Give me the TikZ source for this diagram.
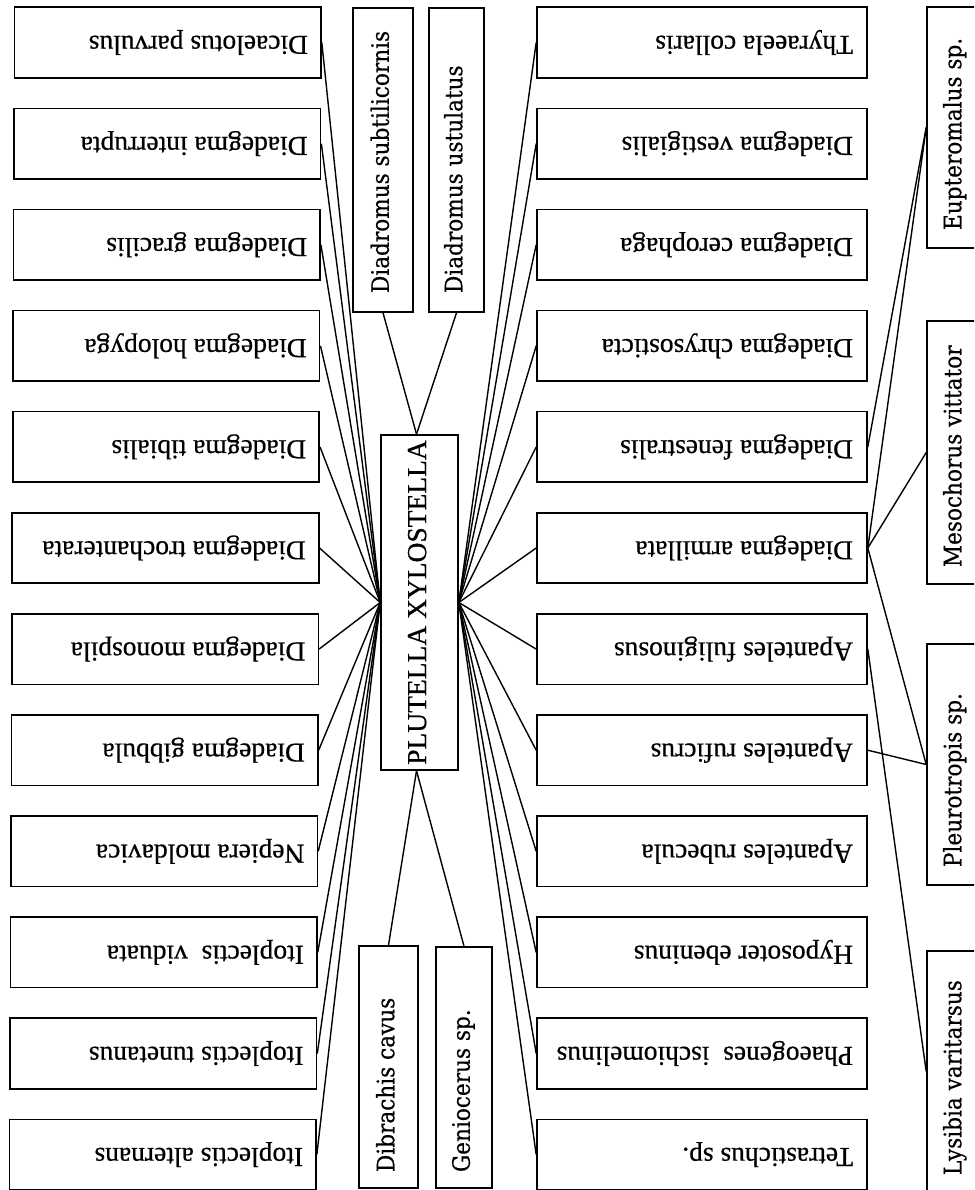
\documentclass[tikz,border=0pt]{standalone}
\usepackage{fontspec}
\usepackage{graphicx}
\setmainfont{Liberation Serif}[FakeBold=0.6]
\newfontfamily\sidefont{DejaVu Serif}[FakeStretch=0.9, FakeBold=0.4]
\usetikzlibrary{calc}

% upside-down label, set from its start at the right-hand end of the box
\newcommand{\flipname}[2]{\rotatebox{180}{\makebox[#1][l]{\fontsize{27.5}{33}\selectfont\strut #2}}}
% label read from bottom to top, starting near the bottom of the box
\newcommand{\risename}[2]{\rotatebox{90}{\makebox[#1][l]{\sidefont\fontsize{24}{28.8}\selectfont\strut #2}}}

\tikzset{
  box/.style={draw, rectangle, line width=1.6pt, inner sep=0pt, fill=white},
  link/.style={line width=1.4pt},
}

\begin{document}
\begin{tikzpicture}[x=1pt, y=-1pt]
\useasboundingbox (0,0) rectangle (974,1190);
\clip (0,0) rectangle (974,1190);

% host
\node[box, minimum width=77, minimum height=335] (P) at (419.5,602.5)
  {\rotatebox{90}{\fontsize{27.5}{33}\selectfont\strut PLUTELLA XYLOSTELLA}};

% parasitoids of the host, left column
\foreach \i/\t in {0/{Dicaelotus parvulus}, 1/{Diadegma interrupta},
    2/{Diadegma gracilis}, 3/{Diadegma holopyga}, 4/{Diadegma tibialis},
    5/{Diadegma trochanterata}, 6/{Diadegma monospila}, 7/{Diadegma gibbula},
    8/{Nepiera moldavica}, 9/{Itoplectis\ \ viduata}, 10/{Itoplectis tunetanus},
    11/{Itoplectis alternans}} {
  \pgfmathsetmacro{\cx}{167.75-0.45*\i}
  \pgfmathsetmacro{\cy}{42.5+101.1*\i}
  \node[box, minimum width=306.5, minimum height=70.5] (L\i) at (\cx,\cy)
    {\flipname{280.5pt}{\t}};
}

% parasitoids of the host, right column
\foreach \i/\t in {0/{Thyraeela collaris}, 1/{Diadegma vestigialis},
    2/{Diadegma cerophaga}, 3/{Diadegma chrysosticta}, 4/{Diadegma fenestralis},
    5/{Diadegma armillata}, 6/{Apanteles fuliginosus}, 7/{Apanteles ruficrus},
    8/{Apanteles rubecula}, 9/{Hyposoter ebeninus},
    10/{Phaeogenes\ \ ischiomelinus}, 11/{Tetrastichus sp.}} {
  \pgfmathsetmacro{\cy}{42.5+101.1*\i}
  \node[box, minimum width=330, minimum height=70.5] (Q\i) at (702,\cy)
    {\flipname{302pt}{\t}};
}

% upright boxes above and below the host
\node[box, minimum width=60, minimum height=304] (D1) at (383,160)
  {\risename{266pt}{Diadromus subtilicornis}};
\node[box, minimum width=55, minimum height=304] (D2) at (456.5,160)
  {\risename{266pt}{Diadromus ustulatus}};
\node[box, minimum width=59, minimum height=242] (B1) at (388.5,1067)
  {\risename{210pt}{Dibrachis cavus}};
\node[box, minimum width=56, minimum height=241] (B2) at (464,1067.5)
  {\risename{209pt}{Geniocerus sp.}};

% hyperparasitoids, far right
\node[box, minimum width=57, minimum height=241] (S1) at (955.5,127.5)
  {\risename{205pt}{Eupteromalus sp.}};
\node[box, minimum width=57, minimum height=263] (S2) at (955.5,452.5)
  {\risename{229pt}{Mesochorus vittator}};
\node[box, minimum width=57, minimum height=241] (S3) at (955.5,764.5)
  {\risename{205pt}{Pleurotropis sp.}};
\node[box, minimum width=57, minimum height=241] (S4) at (955.5,1071.5)
  {\risename{207pt}{Lysibia varitarsus}};

% connectors
\foreach \i in {0,...,11} {
  \draw[link] (L\i.east) -- (P.west);
  \draw[link] (P.east) -- (Q\i.west);
}
\coordinate (Ptop) at ($(P.north)+(-3,0)$);
\coordinate (Pbot) at ($(P.south)+(-3,0)$);
\draw[link] (D1.south) -- (Ptop);
\draw[link] (D2.south) -- (Ptop);
\draw[link] (B1.north) -- (Pbot);
\draw[link] (B2.north) -- (Pbot);

\draw[link] (S1.west) -- (Q4.east);
\draw[link] (S1.west) -- (Q5.east);
\draw[link] (S2.west) -- (Q5.east);
\draw[link] (S3.west) -- (Q5.east);
\draw[link] (S3.west) -- (Q7.east);
\draw[link] (S4.west) -- (Q6.east);
\end{tikzpicture}
\end{document}
